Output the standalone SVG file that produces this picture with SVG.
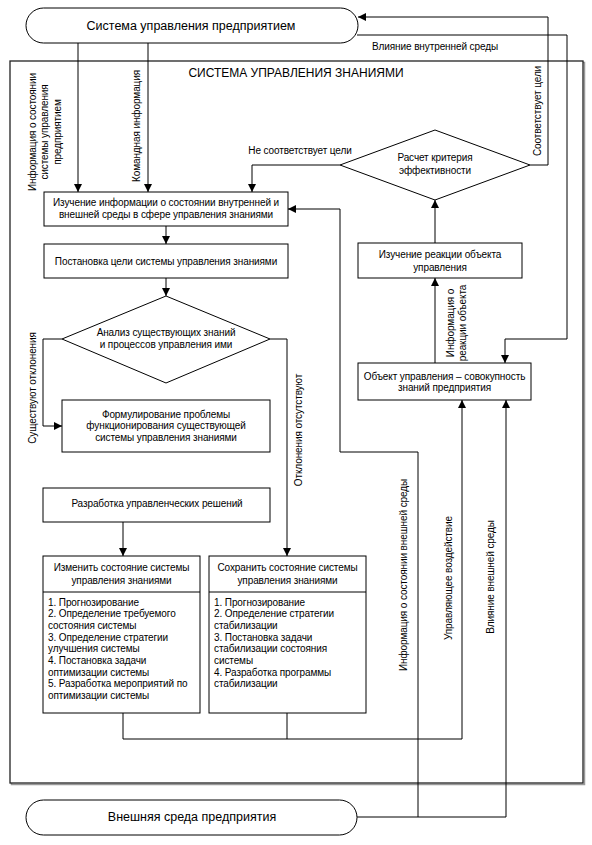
<svg xmlns="http://www.w3.org/2000/svg" width="592" height="845" viewBox="0 0 592 845">
<defs>
<marker id="arr" viewBox="0 0 10 10" refX="10" refY="5" markerWidth="8" markerHeight="8" markerUnits="userSpaceOnUse" orient="auto">
<path d="M0,0 L10,5 L0,10 Z" fill="#000"/>
</marker>
<style>
text{font-family:"Liberation Sans",Arial,sans-serif;fill:#000}
.t{font-size:10px;text-anchor:middle;letter-spacing:-0.1px}
.l{font-size:10px;letter-spacing:-0.1px}
.big{font-size:12.5px;text-anchor:middle}
.box{fill:#fff;stroke:#000;stroke-width:1}
.c{fill:none;stroke:#000;stroke-width:1}
.a{marker-end:url(#arr)}
</style>
</defs>
<rect width="592" height="845" fill="#fff"/>

<g id="outer">
<rect x="11.5" y="62.5" width="573" height="722" fill="none" stroke="#999" stroke-width="1.5"/>
<rect x="10" y="61" width="573" height="722" fill="#fff" stroke="#222" stroke-width="1.3"/>
<text x="296" y="77" style="font-size:12px;text-anchor:middle">СИСТЕМА УПРАВЛЕНИЯ ЗНАНИЯМИ</text>
</g>

<g id="connectors">
<path class="c a" d="M78,43 V192"/>
<path class="c a" d="M148,43 V192"/>
<path class="c a" d="M530,165 H548 V17 H358"/>
<path class="c a" d="M357,35 H567 V339 H505 V363"/>
<path class="c a" d="M340,165 H252 V192"/>
<path class="c a" d="M166,226 V244"/>
<path class="c a" d="M166,278 V296"/>
<path class="c a" d="M62,339 H43 V426 H62"/>
<path class="c a" d="M270,339 H287 V556"/>
<path class="c a" d="M123,522 V556"/>
<path class="c" d="M123,713 V739 H462"/>
<path class="c" d="M287,713 V739"/>
<path class="c a" d="M462,739 V400"/>
<path class="c a" d="M357,817 H506 V400"/>
<path class="c a" d="M418,817 V452 H340 V209 H288"/>
<path class="c a" d="M435,363 V278"/>
<path class="c a" d="M435,243 V200"/>
</g>

<g id="labels">
<text class="l" x="435" y="50" text-anchor="middle">Влияние внутренней среды</text>
<text class="l" x="300" y="154" text-anchor="middle">Не соответствует цели</text>
<text class="t" transform="translate(35.5,132) rotate(-90)">Информация о состоянии</text>
<text class="t" transform="translate(48,132) rotate(-90)">системы управления</text>
<text class="t" transform="translate(60.5,132) rotate(-90)">предприятием</text>
<text class="t" transform="translate(139.5,126) rotate(-90)">Командная информация</text>
<text class="t" transform="translate(540.5,111) rotate(-90)">Соответствует цели</text>
<text class="t" transform="translate(35.5,388) rotate(-90)">Существуют отклонения</text>
<text class="t" transform="translate(301.5,430) rotate(-90)">Отклонения отсутствуют</text>
<text class="t" transform="translate(453.5,323) rotate(-90)">Информация о</text>
<text class="t" transform="translate(465.5,323) rotate(-90)">реакции объекта</text>
<text class="t" transform="translate(406.5,575) rotate(-90)">Информация о состоянии внешней среды</text>
<text class="t" transform="translate(451.5,578) rotate(-90)">Управляющее воздействие</text>
<text class="t" transform="translate(493.5,577) rotate(-90)">Влияние внешней среды</text>
</g>

<g id="n-top">
<rect class="box" x="26" y="8" width="332" height="35" rx="17.5"/>
<text class="big" x="191" y="30">Система управления предприятием</text>
</g>

<g id="n-bottom">
<rect class="box" x="26" y="800" width="331" height="35" rx="17.5"/>
<text class="big" x="192" y="821">Внешняя среда предприятия</text>
</g>

<g id="n-study">
<rect class="box" x="44" y="192" width="244" height="34"/>
<text class="t" x="166" y="206">Изучение информации о состоянии внутренней и</text>
<text class="t" x="166" y="217.5">внешней среды в сфере управления знаниями</text>
</g>

<g id="n-goal">
<rect class="box" x="44" y="244" width="244" height="34"/>
<text class="t" x="166" y="264.5">Постановка цели системы управления знаниями</text>
</g>

<g id="n-analysis">
<polygon class="box" points="166,296 270,339 166,383 62,339"/>
<text class="t" x="166" y="336">Анализ существующих знаний</text>
<text class="t" x="166" y="347.5">и процессов управления ими</text>
</g>

<g id="n-problem">
<rect class="box" x="62" y="400" width="208" height="52"/>
<text class="t" x="166" y="417.5">Формулирование проблемы</text>
<text class="t" x="166" y="429">функционирования существующей</text>
<text class="t" x="166" y="440.5">системы управления знаниями</text>
</g>

<g id="n-decisions">
<rect class="box" x="43" y="488" width="227" height="34"/>
<text class="t" x="157" y="506.5">Разработка управленческих решений</text>
</g>

<g id="n-change">
<rect class="box" x="43" y="556" width="157" height="157"/>
<line class="c" x1="43" y1="592" x2="200" y2="592"/>
<text class="t" x="121.5" y="570.5">Изменить состояние системы</text>
<text class="t" x="121.5" y="583.5">управления знаниями</text>
<text class="l" x="48" y="605.5">1. Прогнозирование</text>
<text class="l" x="48" y="617.2">2. Определение требуемого</text>
<text class="l" x="48" y="628.9">состояния системы</text>
<text class="l" x="48" y="640.6">3. Определение стратегии</text>
<text class="l" x="48" y="652.3">улучшения системы</text>
<text class="l" x="48" y="664">4. Постановка задачи</text>
<text class="l" x="48" y="675.7">оптимизации системы</text>
<text class="l" x="48" y="687.4">5. Разработка мероприятий по</text>
<text class="l" x="48" y="699.1">оптимизации системы</text>
</g>

<g id="n-keep">
<rect class="box" x="209" y="556" width="157" height="157"/>
<line class="c" x1="209" y1="592" x2="366" y2="592"/>
<text class="t" x="287.5" y="570.5">Сохранить состояние системы</text>
<text class="t" x="287.5" y="583.5">управления знаниями</text>
<text class="l" x="214" y="605.5">1. Прогнозирование</text>
<text class="l" x="214" y="617.2">2. Определение стратегии</text>
<text class="l" x="214" y="628.9">стабилизации</text>
<text class="l" x="214" y="640.6">3. Постановка задачи</text>
<text class="l" x="214" y="652.3">стабилизации состояния</text>
<text class="l" x="214" y="664">системы</text>
<text class="l" x="214" y="675.7">4. Разработка программы</text>
<text class="l" x="214" y="687.4">стабилизации</text>
</g>

<g id="n-object">
<rect class="box" x="358" y="363" width="173" height="37"/>
<text class="t" x="444.5" y="379.5">Объект управления – совокупность</text>
<text class="t" x="444.5" y="391">знаний предприятия</text>
</g>

<g id="n-reaction">
<rect class="box" x="358" y="243" width="164" height="35"/>
<text class="t" x="440" y="257.5">Изучение реакции объекта</text>
<text class="t" x="440" y="270.5">управления</text>
</g>

<g id="n-criterion">
<polygon class="box" points="435,130 530,165 435,200 340,165"/>
<text class="t" x="435" y="161">Расчет критерия</text>
<text class="t" x="435" y="173.5">эффективности</text>
</g>
</svg>
